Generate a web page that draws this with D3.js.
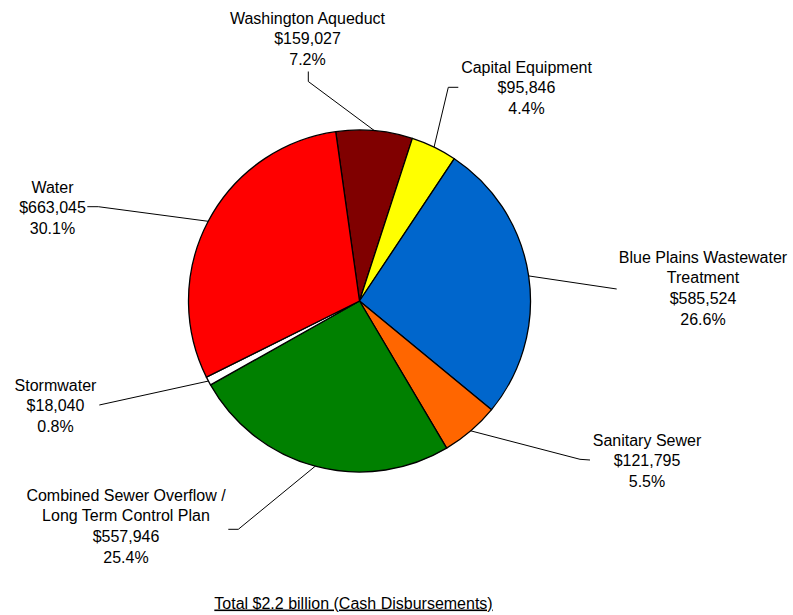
<!DOCTYPE html>
<html>
<head>
<meta charset="utf-8">
<script src="https://cdn.jsdelivr.net/npm/d3@7"></script>
<style>
  html, body { margin: 0; padding: 0; background: #fff; }
  svg text { font-family: "Liberation Sans", Arial, sans-serif; font-size: 16px; fill: #000; }
</style>
</head>
<body>
<svg id="chart" width="793" height="615"></svg>
<script>
// Capital program cash disbursements, in thousands of dollars
const categories = [
  "Washington Aqueduct",
  "Capital Equipment",
  "Blue Plains Wastewater Treatment",
  "Sanitary Sewer",
  "Combined Sewer Overflow / Long Term Control Plan",
  "Stormwater",
  "Water"
];
const amounts = [159027, 95846, 585524, 121795, 557946, 18040, 663045];
const percentLabels = ["7.2%", "4.4%", "26.6%", "5.5%", "25.4%", "0.8%", "30.1%"];
const nameLines = [
  ["Washington Aqueduct"],
  ["Capital Equipment"],
  ["Blue Plains Wastewater", "Treatment"],
  ["Sanitary Sewer"],
  ["Combined Sewer Overflow /", "Long Term Control Plan"],
  ["Stormwater"],
  ["Water"]
];
const sliceColors = ["#800000", "#FFFF00", "#0066CC", "#FF6600", "#008000", "#FFFFFF", "#FF0000"];
const titleText = "Total $2.2 billion (Cash Disbursements)";

// Layout
const cx = 359.5, cy = 301, radius = 171;
const lineGap = 20.6;
// label block: centre x, centre y of first line, leader start point and elbow
const labelLayout = [
  { x: 307.5, y: 18,    start: [308.3, 71.5],  elbow: [308.3, 81.5] },
  { x: 526.5, y: 67,    start: [458.3, 87.3],  elbow: [448.3, 87.3] },
  { x: 703,   y: 257,   start: [616.7, 289],   elbow: null },
  { x: 647,   y: 440,   start: [590, 460],     elbow: [580, 459.3] },
  { x: 126,   y: 495,   start: [228.3, 529.3], elbow: [238.3, 529.3] },
  { x: 55.5,  y: 385,   start: [99.3, 405],    elbow: null },
  { x: 52.5,  y: 186.7, start: [87.3, 206.7],  elbow: [98.3, 206.7] }
];

const svg = d3.select("#chart");
const data = categories.map((c, i) => ({ name: c, value: amounts[i], i }));

const startDeg = -8;
const pie = d3.pie()
  .sort(null)
  .value(d => d.value)
  .startAngle(startDeg * Math.PI / 180)
  .endAngle(startDeg * Math.PI / 180 + 2 * Math.PI);
const arcs = pie(data);
const arc = d3.arc().innerRadius(0).outerRadius(radius);

const g = svg.append("g").attr("transform", `translate(${cx},${cy})`);
g.selectAll("path.slice")
  .data(arcs)
  .join("path")
  .attr("class", "slice")
  .attr("d", arc)
  .attr("fill", d => sliceColors[d.data.i])
  .attr("stroke", "#000")
  .attr("stroke-width", 1.3)
  .attr("stroke-linejoin", "round");

// Leader lines from each label to the middle of its slice edge
const fmt = d3.format(",");
arcs.forEach(a => {
  const L = labelLayout[a.data.i];
  const mid = (a.startAngle + a.endAngle) / 2;
  const px = cx + radius * Math.sin(mid);
  const py = cy - radius * Math.cos(mid);
  const pts = [L.start];
  if (L.elbow) pts.push(L.elbow);
  pts.push([px, py]);
  svg.append("path")
    .attr("d", d3.line()(pts))
    .attr("fill", "none")
    .attr("stroke", "#000")
    .attr("stroke-width", 1);
});

// Labels: name lines, dollar amount, percentage
arcs.forEach(a => {
  const i = a.data.i;
  const L = labelLayout[i];
  const lines = nameLines[i].concat(["$" + fmt(amounts[i]), percentLabels[i]]);
  const t = svg.append("text").attr("text-anchor", "middle");
  lines.forEach((s, k) => {
    t.append("tspan")
      .attr("x", L.x)
      .attr("y", L.y + k * lineGap + 5.8)
      .text(s);
  });
});

// Footer total
svg.append("text")
  .attr("x", 353.5)
  .attr("y", 608.5)
  .attr("text-anchor", "middle")
  .style("text-decoration", "underline")
  .text(titleText);
</script>
</body>
</html>
